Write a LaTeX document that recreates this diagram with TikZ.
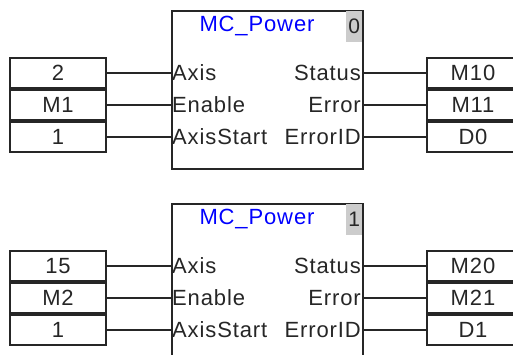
\documentclass[tikz,border=0pt]{standalone}
\usepackage{fontspec}
\setmainfont{Liberation Sans}[LetterSpace=4]
\begin{document}
\begin{tikzpicture}[x=1pt,y=-1pt,
  blk/.style={draw=black!85,line width=1.5pt,anchor=north west,minimum width=191pt,inner sep=0pt},
  num/.style={fill=black!20,anchor=north east,minimum width=16pt,minimum height=31pt,inner sep=0pt,font=\fontsize{21}{24}\selectfont,text=black!85},
  ttl/.style={text=blue,font=\fontsize{22}{24}\selectfont,inner sep=0pt},
  pinl/.style={anchor=west,inner sep=0pt,font=\fontsize{22}{24}\selectfont,text=black!85},
  pinr/.style={anchor=east,inner sep=0pt,font=\fontsize{22}{24}\selectfont,text=black!85},
  inbox/.style={draw=black!85,line width=1.3pt,minimum width=96pt,minimum height=30pt,inner sep=0pt,font=\fontsize{22}{24}\selectfont,text=black!85},
  outbox/.style={draw=black!85,line width=1.3pt,minimum width=92pt,minimum height=30pt,inner sep=0pt,font=\fontsize{22}{24}\selectfont,text=black!85},
  wire/.style={draw=black!85,line width=1.3pt}]
\useasboundingbox (0,0) rectangle (513,354);
% ---------- block 0 ----------
\node[blk,minimum height=158pt] (blk0) at (171,10) {};
\node[num] (n0) at ([xshift=-1pt,yshift=-1pt]blk0.north east) {0};
\node[ttl] (t0) at (257,26) {MC\_Power};
\node[pinl] (p0a) at (172,73) {Axis};
\node[pinl] (p0b) at (172,105) {Enable};
\node[pinl] (p0c) at (172,137) {AxisStart};
\node[pinr] (q0a) at (361,73) {Status};
\node[pinr] (q0b) at (361,105) {Error};
\node[pinr] (q0c) at (361,137) {ErrorID};
\node[inbox] (i0a) at (58,73) {2};
\node[inbox] (i0b) at (58,105) {M1};
\node[inbox] (i0c) at (58,137) {1};
\node[outbox] (o0a) at (473,73) {M10};
\node[outbox] (o0b) at (473,105) {M11};
\node[outbox] (o0c) at (473,137) {D0};
\foreach \r in {a,b,c}{
  \draw[wire] (i0\r.east) -- (i0\r.east -| blk0.west);
  \draw[wire] (o0\r.west -| blk0.east) -- (o0\r.west);
}
% ---------- block 1 ----------
\node[blk,minimum height=170pt] (blk1) at (171,203) {};
\node[num] (n1) at ([xshift=-1pt,yshift=-1pt]blk1.north east) {1};
\node[ttl] (t1) at (257,219) {MC\_Power};
\node[pinl] (p1a) at (172,266) {Axis};
\node[pinl] (p1b) at (172,298) {Enable};
\node[pinl] (p1c) at (172,330) {AxisStart};
\node[pinr] (q1a) at (361,266) {Status};
\node[pinr] (q1b) at (361,298) {Error};
\node[pinr] (q1c) at (361,330) {ErrorID};
\node[inbox] (i1a) at (58,266) {15};
\node[inbox] (i1b) at (58,298) {M2};
\node[inbox] (i1c) at (58,330) {1};
\node[outbox] (o1a) at (473,266) {M20};
\node[outbox] (o1b) at (473,298) {M21};
\node[outbox] (o1c) at (473,330) {D1};
\foreach \r in {a,b,c}{
  \draw[wire] (i1\r.east) -- (i1\r.east -| blk1.west);
  \draw[wire] (o1\r.west -| blk1.east) -- (o1\r.west);
}
\end{tikzpicture}
\end{document}
